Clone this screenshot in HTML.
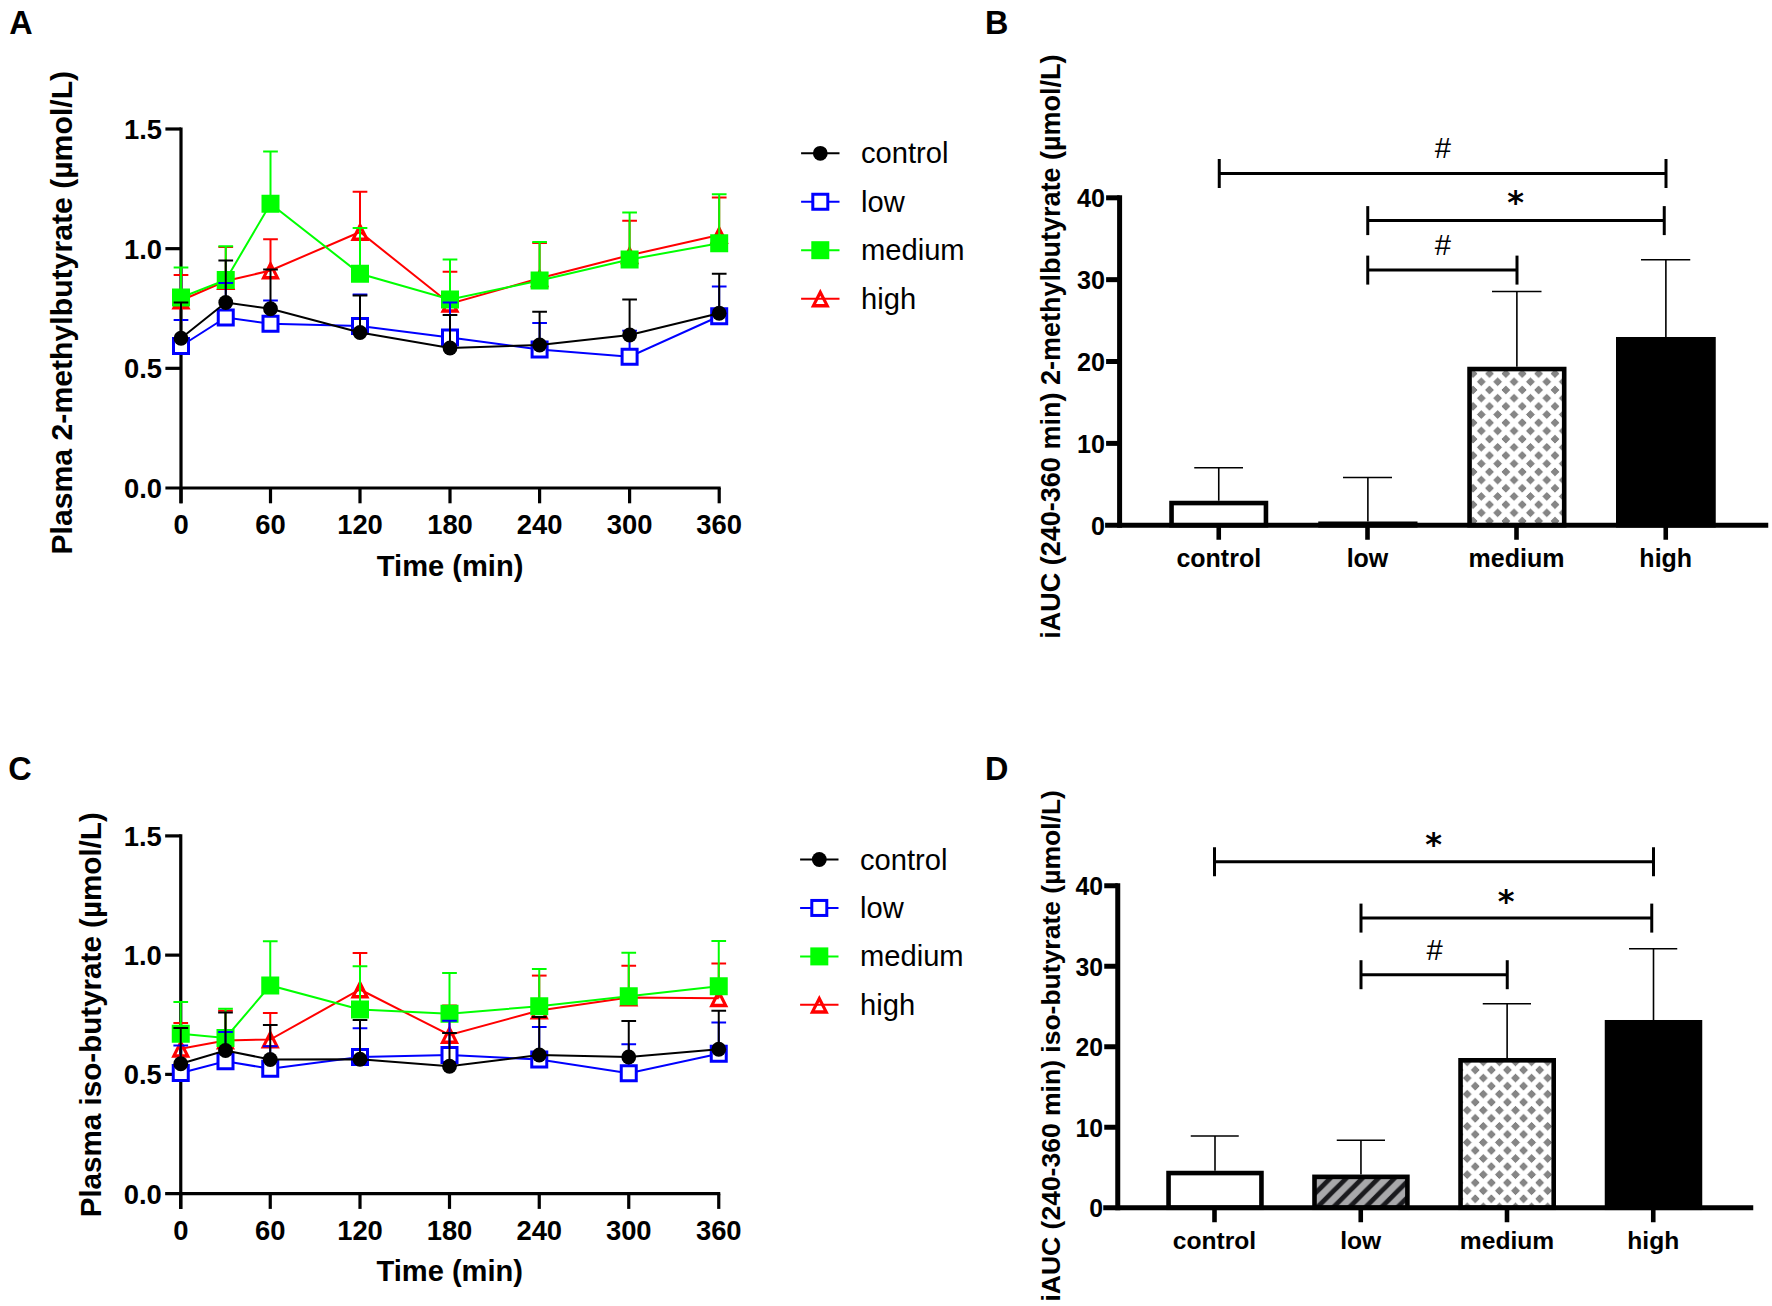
<!DOCTYPE html>
<html lang="en"><head><meta charset="utf-8"><title>Figure</title>
<style>
html,body{margin:0;padding:0;background:#fff;}
body{width:1772px;height:1306px;overflow:hidden;}
svg{display:block;font-family:"Liberation Sans", Arial, Helvetica, sans-serif;}
text{fill:#000;}
</style></head><body>
<svg width="1772" height="1306" viewBox="0 0 1772 1306">
<defs>
<pattern id="dia" patternUnits="userSpaceOnUse" x="1473.1" y="373.6" width="16.38" height="16.38">
<rect width="16.38" height="16.38" fill="#fff"/>
<path d="M0.00 -3.95 L3.95 0.00 L0.00 3.95 L-3.95 0.00Z M16.38 -3.95 L20.33 0.00 L16.38 3.95 L12.43 0.00Z M0.00 12.43 L3.95 16.38 L0.00 20.33 L-3.95 16.38Z M16.38 12.43 L20.33 16.38 L16.38 20.33 L12.43 16.38Z M8.19 4.24 L12.14 8.19 L8.19 12.14 L4.24 8.19Z" fill="#868686" stroke="#5e5e5e" stroke-width="0.7"/>
</pattern>
<pattern id="dia2" patternUnits="userSpaceOnUse" x="1475.25" y="1070" width="16.1" height="16.1">
<rect width="16.1" height="16.1" fill="#fff"/>
<path d="M0.00 -3.95 L3.95 0.00 L0.00 3.95 L-3.95 0.00Z M16.10 -3.95 L20.05 0.00 L16.10 3.95 L12.15 0.00Z M0.00 12.15 L3.95 16.10 L0.00 20.05 L-3.95 16.10Z M16.10 12.15 L20.05 16.10 L16.10 20.05 L12.15 16.10Z M8.05 4.10 L12.00 8.05 L8.05 12.00 L4.10 8.05Z" fill="#868686" stroke="#5e5e5e" stroke-width="0.7"/>
</pattern>
<pattern id="hatch" patternUnits="userSpaceOnUse" x="1335.2" y="1205.4" width="16.05" height="16.05">
<rect width="16.05" height="16.05" fill="#a8a8ab"/>
<path d="M-8.02 8.02 L8.02 -8.02 M0 16.05 L16.05 0 M8.02 24.07 L24.07 8.02" stroke="#1a1a1e" stroke-width="4.8"/>
</pattern>
</defs>
<rect width="1772" height="1306" fill="#fff"/>

<line x1="181.00" y1="127.40" x2="181.00" y2="503.30" stroke="#000" stroke-width="3.2" />
<line x1="165.40" y1="488.00" x2="720.70" y2="488.00" stroke="#000" stroke-width="3.2" />
<text transform="translate(162.00 497.90) scale(1 1.04)" font-size="27.4" font-weight="bold" text-anchor="end" >0.0</text>
<line x1="165.40" y1="368.33" x2="181.00" y2="368.33" stroke="#000" stroke-width="3.2" />
<text transform="translate(162.00 378.23) scale(1 1.04)" font-size="27.4" font-weight="bold" text-anchor="end" >0.5</text>
<line x1="165.40" y1="248.67" x2="181.00" y2="248.67" stroke="#000" stroke-width="3.2" />
<text transform="translate(162.00 258.57) scale(1 1.04)" font-size="27.4" font-weight="bold" text-anchor="end" >1.0</text>
<line x1="165.40" y1="129.00" x2="181.00" y2="129.00" stroke="#000" stroke-width="3.2" />
<text transform="translate(162.00 138.90) scale(1 1.04)" font-size="27.4" font-weight="bold" text-anchor="end" >1.5</text>
<line x1="181.00" y1="488.00" x2="181.00" y2="503.30" stroke="#000" stroke-width="3.2" />
<text transform="translate(181.00 534.00) scale(1 1.04)" font-size="27.4" font-weight="bold" text-anchor="middle" >0</text>
<line x1="270.50" y1="488.00" x2="270.50" y2="503.30" stroke="#000" stroke-width="3.2" />
<text transform="translate(270.50 534.00) scale(1 1.04)" font-size="27.4" font-weight="bold" text-anchor="middle" >60</text>
<line x1="360.00" y1="488.00" x2="360.00" y2="503.30" stroke="#000" stroke-width="3.2" />
<text transform="translate(360.00 534.00) scale(1 1.04)" font-size="27.4" font-weight="bold" text-anchor="middle" >120</text>
<line x1="450.00" y1="488.00" x2="450.00" y2="503.30" stroke="#000" stroke-width="3.2" />
<text transform="translate(450.00 534.00) scale(1 1.04)" font-size="27.4" font-weight="bold" text-anchor="middle" >180</text>
<line x1="539.60" y1="488.00" x2="539.60" y2="503.30" stroke="#000" stroke-width="3.2" />
<text transform="translate(539.60 534.00) scale(1 1.04)" font-size="27.4" font-weight="bold" text-anchor="middle" >240</text>
<line x1="629.60" y1="488.00" x2="629.60" y2="503.30" stroke="#000" stroke-width="3.2" />
<text transform="translate(629.60 534.00) scale(1 1.04)" font-size="27.4" font-weight="bold" text-anchor="middle" >300</text>
<line x1="719.20" y1="488.00" x2="719.20" y2="503.30" stroke="#000" stroke-width="3.2" />
<text transform="translate(719.20 534.00) scale(1 1.04)" font-size="27.4" font-weight="bold" text-anchor="middle" >360</text>
<path d="M181.00 290.60 L190.55 309.40 L171.45 309.40 Z M181.00 297.60 L176.70 305.90 L185.30 305.90 Z" fill="#ff0000" fill-rule="evenodd"/>
<path d="M225.75 271.10 L235.30 289.90 L216.20 289.90 Z M225.75 278.10 L221.45 286.40 L230.05 286.40 Z" fill="#ff0000" fill-rule="evenodd"/>
<path d="M270.50 260.60 L280.05 279.40 L260.95 279.40 Z M270.50 267.60 L266.20 275.90 L274.80 275.90 Z" fill="#ff0000" fill-rule="evenodd"/>
<path d="M360.00 222.10 L369.55 240.90 L350.45 240.90 Z M360.00 229.10 L355.70 237.40 L364.30 237.40 Z" fill="#ff0000" fill-rule="evenodd"/>
<path d="M450.00 293.85 L459.55 312.65 L440.45 312.65 Z M450.00 300.85 L445.70 309.15 L454.30 309.15 Z" fill="#ff0000" fill-rule="evenodd"/>
<path d="M539.60 268.35 L549.15 287.15 L530.05 287.15 Z M539.60 275.35 L535.30 283.65 L543.90 283.65 Z" fill="#ff0000" fill-rule="evenodd"/>
<path d="M629.60 245.35 L639.15 264.15 L620.05 264.15 Z M629.60 252.35 L625.30 260.65 L633.90 260.65 Z" fill="#ff0000" fill-rule="evenodd"/>
<path d="M719.20 225.10 L728.75 243.90 L709.65 243.90 Z M719.20 232.10 L714.90 240.40 L723.50 240.40 Z" fill="#ff0000" fill-rule="evenodd"/>
<line x1="181.00" y1="300.50" x2="181.00" y2="275.00" stroke="#ff0000" stroke-width="2.0" />
<line x1="173.65" y1="275.00" x2="188.35" y2="275.00" stroke="#ff0000" stroke-width="2.0" />
<line x1="225.75" y1="281.00" x2="225.75" y2="247.00" stroke="#ff0000" stroke-width="2.0" />
<line x1="218.40" y1="247.00" x2="233.10" y2="247.00" stroke="#ff0000" stroke-width="2.0" />
<line x1="270.50" y1="270.50" x2="270.50" y2="239.25" stroke="#ff0000" stroke-width="2.0" />
<line x1="263.15" y1="239.25" x2="277.85" y2="239.25" stroke="#ff0000" stroke-width="2.0" />
<line x1="360.00" y1="232.00" x2="360.00" y2="191.75" stroke="#ff0000" stroke-width="2.0" />
<line x1="352.65" y1="191.75" x2="367.35" y2="191.75" stroke="#ff0000" stroke-width="2.0" />
<line x1="450.00" y1="303.75" x2="450.00" y2="271.75" stroke="#ff0000" stroke-width="2.0" />
<line x1="442.65" y1="271.75" x2="457.35" y2="271.75" stroke="#ff0000" stroke-width="2.0" />
<line x1="539.60" y1="278.25" x2="539.60" y2="243.00" stroke="#ff0000" stroke-width="2.0" />
<line x1="532.25" y1="243.00" x2="546.95" y2="243.00" stroke="#ff0000" stroke-width="2.0" />
<line x1="629.60" y1="255.25" x2="629.60" y2="220.75" stroke="#ff0000" stroke-width="2.0" />
<line x1="622.25" y1="220.75" x2="636.95" y2="220.75" stroke="#ff0000" stroke-width="2.0" />
<line x1="719.20" y1="235.00" x2="719.20" y2="197.50" stroke="#ff0000" stroke-width="2.0" />
<line x1="711.85" y1="197.50" x2="726.55" y2="197.50" stroke="#ff0000" stroke-width="2.0" />
<polyline points="181.00,300.50 225.75,281.00 270.50,270.50 360.00,232.00 450.00,303.75 539.60,278.25 629.60,255.25 719.20,235.00" fill="none" stroke="#ff0000" stroke-width="2"/>
<line x1="181.00" y1="297.50" x2="181.00" y2="267.50" stroke="#00ff00" stroke-width="2.0" />
<line x1="173.65" y1="267.50" x2="188.35" y2="267.50" stroke="#00ff00" stroke-width="2.0" />
<line x1="225.75" y1="280.00" x2="225.75" y2="246.25" stroke="#00ff00" stroke-width="2.0" />
<line x1="218.40" y1="246.25" x2="233.10" y2="246.25" stroke="#00ff00" stroke-width="2.0" />
<line x1="270.50" y1="203.75" x2="270.50" y2="151.50" stroke="#00ff00" stroke-width="2.0" />
<line x1="263.15" y1="151.50" x2="277.85" y2="151.50" stroke="#00ff00" stroke-width="2.0" />
<line x1="360.00" y1="273.75" x2="360.00" y2="228.00" stroke="#00ff00" stroke-width="2.0" />
<line x1="352.65" y1="228.00" x2="367.35" y2="228.00" stroke="#00ff00" stroke-width="2.0" />
<line x1="450.00" y1="299.50" x2="450.00" y2="259.50" stroke="#00ff00" stroke-width="2.0" />
<line x1="442.65" y1="259.50" x2="457.35" y2="259.50" stroke="#00ff00" stroke-width="2.0" />
<line x1="539.60" y1="280.50" x2="539.60" y2="242.00" stroke="#00ff00" stroke-width="2.0" />
<line x1="532.25" y1="242.00" x2="546.95" y2="242.00" stroke="#00ff00" stroke-width="2.0" />
<line x1="629.60" y1="259.50" x2="629.60" y2="212.50" stroke="#00ff00" stroke-width="2.0" />
<line x1="622.25" y1="212.50" x2="636.95" y2="212.50" stroke="#00ff00" stroke-width="2.0" />
<line x1="719.20" y1="243.25" x2="719.20" y2="194.25" stroke="#00ff00" stroke-width="2.0" />
<line x1="711.85" y1="194.25" x2="726.55" y2="194.25" stroke="#00ff00" stroke-width="2.0" />
<polyline points="181.00,297.50 225.75,280.00 270.50,203.75 360.00,273.75 450.00,299.50 539.60,280.50 629.60,259.50 719.20,243.25" fill="none" stroke="#00ff00" stroke-width="2"/>
<rect x="172.00" y="288.50" width="18" height="18" fill="#00ff00"/>
<rect x="216.75" y="271.00" width="18" height="18" fill="#00ff00"/>
<rect x="261.50" y="194.75" width="18" height="18" fill="#00ff00"/>
<rect x="351.00" y="264.75" width="18" height="18" fill="#00ff00"/>
<rect x="441.00" y="290.50" width="18" height="18" fill="#00ff00"/>
<rect x="530.60" y="271.50" width="18" height="18" fill="#00ff00"/>
<rect x="620.60" y="250.50" width="18" height="18" fill="#00ff00"/>
<rect x="710.20" y="234.25" width="18" height="18" fill="#00ff00"/>
<line x1="181.00" y1="346.00" x2="181.00" y2="320.00" stroke="#0000ff" stroke-width="2.0" />
<line x1="173.65" y1="320.00" x2="188.35" y2="320.00" stroke="#0000ff" stroke-width="2.0" />
<line x1="225.75" y1="317.50" x2="225.75" y2="283.00" stroke="#0000ff" stroke-width="2.0" />
<line x1="218.40" y1="283.00" x2="233.10" y2="283.00" stroke="#0000ff" stroke-width="2.0" />
<line x1="270.50" y1="323.75" x2="270.50" y2="300.50" stroke="#0000ff" stroke-width="2.0" />
<line x1="263.15" y1="300.50" x2="277.85" y2="300.50" stroke="#0000ff" stroke-width="2.0" />
<line x1="360.00" y1="326.00" x2="360.00" y2="294.50" stroke="#0000ff" stroke-width="2.0" />
<line x1="352.65" y1="294.50" x2="367.35" y2="294.50" stroke="#0000ff" stroke-width="2.0" />
<line x1="450.00" y1="337.50" x2="450.00" y2="302.50" stroke="#0000ff" stroke-width="2.0" />
<line x1="442.65" y1="302.50" x2="457.35" y2="302.50" stroke="#0000ff" stroke-width="2.0" />
<line x1="539.60" y1="349.50" x2="539.60" y2="323.00" stroke="#0000ff" stroke-width="2.0" />
<line x1="532.25" y1="323.00" x2="546.95" y2="323.00" stroke="#0000ff" stroke-width="2.0" />
<line x1="629.60" y1="356.75" x2="629.60" y2="330.75" stroke="#0000ff" stroke-width="2.0" />
<line x1="622.25" y1="330.75" x2="636.95" y2="330.75" stroke="#0000ff" stroke-width="2.0" />
<line x1="719.20" y1="316.25" x2="719.20" y2="286.50" stroke="#0000ff" stroke-width="2.0" />
<line x1="711.85" y1="286.50" x2="726.55" y2="286.50" stroke="#0000ff" stroke-width="2.0" />
<polyline points="181.00,346.00 225.75,317.50 270.50,323.75 360.00,326.00 450.00,337.50 539.60,349.50 629.60,356.75 719.20,316.25" fill="none" stroke="#0000ff" stroke-width="2"/>
<rect x="173.50" y="338.50" width="15" height="15" fill="#fff" stroke="#0000ff" stroke-width="3"/>
<rect x="218.25" y="310.00" width="15" height="15" fill="#fff" stroke="#0000ff" stroke-width="3"/>
<rect x="263.00" y="316.25" width="15" height="15" fill="#fff" stroke="#0000ff" stroke-width="3"/>
<rect x="352.50" y="318.50" width="15" height="15" fill="#fff" stroke="#0000ff" stroke-width="3"/>
<rect x="442.50" y="330.00" width="15" height="15" fill="#fff" stroke="#0000ff" stroke-width="3"/>
<rect x="532.10" y="342.00" width="15" height="15" fill="#fff" stroke="#0000ff" stroke-width="3"/>
<rect x="622.10" y="349.25" width="15" height="15" fill="#fff" stroke="#0000ff" stroke-width="3"/>
<rect x="711.70" y="308.75" width="15" height="15" fill="#fff" stroke="#0000ff" stroke-width="3"/>
<line x1="181.00" y1="338.25" x2="181.00" y2="302.50" stroke="#000000" stroke-width="2.0" />
<line x1="173.65" y1="302.50" x2="188.35" y2="302.50" stroke="#000000" stroke-width="2.0" />
<line x1="225.75" y1="302.50" x2="225.75" y2="260.50" stroke="#000000" stroke-width="2.0" />
<line x1="218.40" y1="260.50" x2="233.10" y2="260.50" stroke="#000000" stroke-width="2.0" />
<line x1="270.50" y1="308.75" x2="270.50" y2="269.50" stroke="#000000" stroke-width="2.0" />
<line x1="263.15" y1="269.50" x2="277.85" y2="269.50" stroke="#000000" stroke-width="2.0" />
<line x1="360.00" y1="332.50" x2="360.00" y2="295.50" stroke="#000000" stroke-width="2.0" />
<line x1="352.65" y1="295.50" x2="367.35" y2="295.50" stroke="#000000" stroke-width="2.0" />
<line x1="450.00" y1="348.00" x2="450.00" y2="315.00" stroke="#000000" stroke-width="2.0" />
<line x1="442.65" y1="315.00" x2="457.35" y2="315.00" stroke="#000000" stroke-width="2.0" />
<line x1="539.60" y1="345.00" x2="539.60" y2="311.75" stroke="#000000" stroke-width="2.0" />
<line x1="532.25" y1="311.75" x2="546.95" y2="311.75" stroke="#000000" stroke-width="2.0" />
<line x1="629.60" y1="335.00" x2="629.60" y2="299.50" stroke="#000000" stroke-width="2.0" />
<line x1="622.25" y1="299.50" x2="636.95" y2="299.50" stroke="#000000" stroke-width="2.0" />
<line x1="719.20" y1="313.25" x2="719.20" y2="273.75" stroke="#000000" stroke-width="2.0" />
<line x1="711.85" y1="273.75" x2="726.55" y2="273.75" stroke="#000000" stroke-width="2.0" />
<polyline points="181.00,338.25 225.75,302.50 270.50,308.75 360.00,332.50 450.00,348.00 539.60,345.00 629.60,335.00 719.20,313.25" fill="none" stroke="#000000" stroke-width="2"/>
<circle cx="181.00" cy="338.25" r="7.4" fill="#000"/>
<circle cx="225.75" cy="302.50" r="7.4" fill="#000"/>
<circle cx="270.50" cy="308.75" r="7.4" fill="#000"/>
<circle cx="360.00" cy="332.50" r="7.4" fill="#000"/>
<circle cx="450.00" cy="348.00" r="7.4" fill="#000"/>
<circle cx="539.60" cy="345.00" r="7.4" fill="#000"/>
<circle cx="629.60" cy="335.00" r="7.4" fill="#000"/>
<circle cx="719.20" cy="313.25" r="7.4" fill="#000"/>
<text x="450.10" y="575.80" font-size="29.1" font-weight="bold" text-anchor="middle" >Time (min)</text>
<text x="72.20" y="312.70" font-size="30.2" font-weight="bold" text-anchor="middle" transform="rotate(-90 72.20 312.70)" >Plasma 2-methylbutyrate (µmol/L)</text>
<line x1="801.10" y1="153.30" x2="839.50" y2="153.30" stroke="#000000" stroke-width="2" />
<circle cx="820.30" cy="153.30" r="7.4" fill="#000"/>
<text x="861.00" y="163.30" font-size="29.15" font-weight="normal" text-anchor="start" >control</text>
<line x1="801.10" y1="201.75" x2="839.50" y2="201.75" stroke="#0000ff" stroke-width="2" />
<rect x="812.80" y="194.25" width="15" height="15" fill="#fff" stroke="#0000ff" stroke-width="3"/>
<text x="861.00" y="211.75" font-size="29.15" font-weight="normal" text-anchor="start" >low</text>
<line x1="801.10" y1="250.20" x2="839.50" y2="250.20" stroke="#00ff00" stroke-width="2" />
<rect x="811.30" y="241.20" width="18" height="18" fill="#00ff00"/>
<text x="861.00" y="260.20" font-size="29.15" font-weight="normal" text-anchor="start" >medium</text>
<path d="M820.30 288.75 L829.85 307.55 L810.75 307.55 Z M820.30 295.75 L816.00 304.05 L824.60 304.05 Z" fill="#ff0000" fill-rule="evenodd"/>
<line x1="801.10" y1="298.65" x2="839.50" y2="298.65" stroke="#ff0000" stroke-width="2" />
<text x="861.00" y="308.65" font-size="29.15" font-weight="normal" text-anchor="start" >high</text>
<text x="9.30" y="33.80" font-size="32.4" font-weight="bold" text-anchor="start" >A</text>
<line x1="180.75" y1="834.30" x2="180.75" y2="1208.90" stroke="#000" stroke-width="3.2" />
<line x1="165.15" y1="1193.60" x2="720.25" y2="1193.60" stroke="#000" stroke-width="3.2" />
<text transform="translate(161.75 1203.50) scale(1 1.04)" font-size="27.4" font-weight="bold" text-anchor="end" >0.0</text>
<line x1="165.15" y1="1074.37" x2="180.75" y2="1074.37" stroke="#000" stroke-width="3.2" />
<text transform="translate(161.75 1084.27) scale(1 1.04)" font-size="27.4" font-weight="bold" text-anchor="end" >0.5</text>
<line x1="165.15" y1="955.13" x2="180.75" y2="955.13" stroke="#000" stroke-width="3.2" />
<text transform="translate(161.75 965.03) scale(1 1.04)" font-size="27.4" font-weight="bold" text-anchor="end" >1.0</text>
<line x1="165.15" y1="835.90" x2="180.75" y2="835.90" stroke="#000" stroke-width="3.2" />
<text transform="translate(161.75 845.80) scale(1 1.04)" font-size="27.4" font-weight="bold" text-anchor="end" >1.5</text>
<line x1="180.75" y1="1193.60" x2="180.75" y2="1208.90" stroke="#000" stroke-width="3.2" />
<text transform="translate(180.75 1239.60) scale(1 1.04)" font-size="27.4" font-weight="bold" text-anchor="middle" >0</text>
<line x1="270.25" y1="1193.60" x2="270.25" y2="1208.90" stroke="#000" stroke-width="3.2" />
<text transform="translate(270.25 1239.60) scale(1 1.04)" font-size="27.4" font-weight="bold" text-anchor="middle" >60</text>
<line x1="360.00" y1="1193.60" x2="360.00" y2="1208.90" stroke="#000" stroke-width="3.2" />
<text transform="translate(360.00 1239.60) scale(1 1.04)" font-size="27.4" font-weight="bold" text-anchor="middle" >120</text>
<line x1="449.50" y1="1193.60" x2="449.50" y2="1208.90" stroke="#000" stroke-width="3.2" />
<text transform="translate(449.50 1239.60) scale(1 1.04)" font-size="27.4" font-weight="bold" text-anchor="middle" >180</text>
<line x1="539.25" y1="1193.60" x2="539.25" y2="1208.90" stroke="#000" stroke-width="3.2" />
<text transform="translate(539.25 1239.60) scale(1 1.04)" font-size="27.4" font-weight="bold" text-anchor="middle" >240</text>
<line x1="628.75" y1="1193.60" x2="628.75" y2="1208.90" stroke="#000" stroke-width="3.2" />
<text transform="translate(628.75 1239.60) scale(1 1.04)" font-size="27.4" font-weight="bold" text-anchor="middle" >300</text>
<line x1="718.75" y1="1193.60" x2="718.75" y2="1208.90" stroke="#000" stroke-width="3.2" />
<text transform="translate(718.75 1239.60) scale(1 1.04)" font-size="27.4" font-weight="bold" text-anchor="middle" >360</text>
<path d="M180.75 1038.85 L190.30 1057.65 L171.20 1057.65 Z M180.75 1045.85 L176.45 1054.15 L185.05 1054.15 Z" fill="#ff0000" fill-rule="evenodd"/>
<path d="M225.50 1030.60 L235.05 1049.40 L215.95 1049.40 Z M225.50 1037.60 L221.20 1045.90 L229.80 1045.90 Z" fill="#ff0000" fill-rule="evenodd"/>
<path d="M270.25 1029.60 L279.80 1048.40 L260.70 1048.40 Z M270.25 1036.60 L265.95 1044.90 L274.55 1044.90 Z" fill="#ff0000" fill-rule="evenodd"/>
<path d="M360.00 979.60 L369.55 998.40 L350.45 998.40 Z M360.00 986.60 L355.70 994.90 L364.30 994.90 Z" fill="#ff0000" fill-rule="evenodd"/>
<path d="M449.50 1025.10 L459.05 1043.90 L439.95 1043.90 Z M449.50 1032.10 L445.20 1040.40 L453.80 1040.40 Z" fill="#ff0000" fill-rule="evenodd"/>
<path d="M539.25 1000.60 L548.80 1019.40 L529.70 1019.40 Z M539.25 1007.60 L534.95 1015.90 L543.55 1015.90 Z" fill="#ff0000" fill-rule="evenodd"/>
<path d="M628.75 987.60 L638.30 1006.40 L619.20 1006.40 Z M628.75 994.60 L624.45 1002.90 L633.05 1002.90 Z" fill="#ff0000" fill-rule="evenodd"/>
<path d="M718.75 988.35 L728.30 1007.15 L709.20 1007.15 Z M718.75 995.35 L714.45 1003.65 L723.05 1003.65 Z" fill="#ff0000" fill-rule="evenodd"/>
<line x1="180.75" y1="1048.75" x2="180.75" y2="1023.00" stroke="#ff0000" stroke-width="2.0" />
<line x1="173.40" y1="1023.00" x2="188.10" y2="1023.00" stroke="#ff0000" stroke-width="2.0" />
<line x1="225.50" y1="1040.50" x2="225.50" y2="1010.75" stroke="#ff0000" stroke-width="2.0" />
<line x1="218.15" y1="1010.75" x2="232.85" y2="1010.75" stroke="#ff0000" stroke-width="2.0" />
<line x1="270.25" y1="1039.50" x2="270.25" y2="1013.00" stroke="#ff0000" stroke-width="2.0" />
<line x1="262.90" y1="1013.00" x2="277.60" y2="1013.00" stroke="#ff0000" stroke-width="2.0" />
<line x1="360.00" y1="989.50" x2="360.00" y2="953.00" stroke="#ff0000" stroke-width="2.0" />
<line x1="352.65" y1="953.00" x2="367.35" y2="953.00" stroke="#ff0000" stroke-width="2.0" />
<line x1="449.50" y1="1035.00" x2="449.50" y2="1005.50" stroke="#ff0000" stroke-width="2.0" />
<line x1="442.15" y1="1005.50" x2="456.85" y2="1005.50" stroke="#ff0000" stroke-width="2.0" />
<line x1="539.25" y1="1010.50" x2="539.25" y2="975.60" stroke="#ff0000" stroke-width="2.0" />
<line x1="531.90" y1="975.60" x2="546.60" y2="975.60" stroke="#ff0000" stroke-width="2.0" />
<line x1="628.75" y1="997.50" x2="628.75" y2="965.75" stroke="#ff0000" stroke-width="2.0" />
<line x1="621.40" y1="965.75" x2="636.10" y2="965.75" stroke="#ff0000" stroke-width="2.0" />
<line x1="718.75" y1="998.25" x2="718.75" y2="963.50" stroke="#ff0000" stroke-width="2.0" />
<line x1="711.40" y1="963.50" x2="726.10" y2="963.50" stroke="#ff0000" stroke-width="2.0" />
<polyline points="180.75,1048.75 225.50,1040.50 270.25,1039.50 360.00,989.50 449.50,1035.00 539.25,1010.50 628.75,997.50 718.75,998.25" fill="none" stroke="#ff0000" stroke-width="2"/>
<line x1="180.75" y1="1033.75" x2="180.75" y2="1002.00" stroke="#00ff00" stroke-width="2.0" />
<line x1="173.40" y1="1002.00" x2="188.10" y2="1002.00" stroke="#00ff00" stroke-width="2.0" />
<line x1="225.50" y1="1038.00" x2="225.50" y2="1008.75" stroke="#00ff00" stroke-width="2.0" />
<line x1="218.15" y1="1008.75" x2="232.85" y2="1008.75" stroke="#00ff00" stroke-width="2.0" />
<line x1="270.25" y1="985.50" x2="270.25" y2="941.25" stroke="#00ff00" stroke-width="2.0" />
<line x1="262.90" y1="941.25" x2="277.60" y2="941.25" stroke="#00ff00" stroke-width="2.0" />
<line x1="360.00" y1="1009.50" x2="360.00" y2="966.25" stroke="#00ff00" stroke-width="2.0" />
<line x1="352.65" y1="966.25" x2="367.35" y2="966.25" stroke="#00ff00" stroke-width="2.0" />
<line x1="449.50" y1="1013.75" x2="449.50" y2="973.00" stroke="#00ff00" stroke-width="2.0" />
<line x1="442.15" y1="973.00" x2="456.85" y2="973.00" stroke="#00ff00" stroke-width="2.0" />
<line x1="539.25" y1="1006.25" x2="539.25" y2="969.00" stroke="#00ff00" stroke-width="2.0" />
<line x1="531.90" y1="969.00" x2="546.60" y2="969.00" stroke="#00ff00" stroke-width="2.0" />
<line x1="628.75" y1="996.25" x2="628.75" y2="952.75" stroke="#00ff00" stroke-width="2.0" />
<line x1="621.40" y1="952.75" x2="636.10" y2="952.75" stroke="#00ff00" stroke-width="2.0" />
<line x1="718.75" y1="986.25" x2="718.75" y2="941.00" stroke="#00ff00" stroke-width="2.0" />
<line x1="711.40" y1="941.00" x2="726.10" y2="941.00" stroke="#00ff00" stroke-width="2.0" />
<polyline points="180.75,1033.75 225.50,1038.00 270.25,985.50 360.00,1009.50 449.50,1013.75 539.25,1006.25 628.75,996.25 718.75,986.25" fill="none" stroke="#00ff00" stroke-width="2"/>
<rect x="171.75" y="1024.75" width="18" height="18" fill="#00ff00"/>
<rect x="216.50" y="1029.00" width="18" height="18" fill="#00ff00"/>
<rect x="261.25" y="976.50" width="18" height="18" fill="#00ff00"/>
<rect x="351.00" y="1000.50" width="18" height="18" fill="#00ff00"/>
<rect x="440.50" y="1004.75" width="18" height="18" fill="#00ff00"/>
<rect x="530.25" y="997.25" width="18" height="18" fill="#00ff00"/>
<rect x="619.75" y="987.25" width="18" height="18" fill="#00ff00"/>
<rect x="709.75" y="977.25" width="18" height="18" fill="#00ff00"/>
<line x1="180.75" y1="1073.00" x2="180.75" y2="1045.50" stroke="#0000ff" stroke-width="2.0" />
<line x1="173.40" y1="1045.50" x2="188.10" y2="1045.50" stroke="#0000ff" stroke-width="2.0" />
<line x1="225.50" y1="1061.25" x2="225.50" y2="1032.00" stroke="#0000ff" stroke-width="2.0" />
<line x1="218.15" y1="1032.00" x2="232.85" y2="1032.00" stroke="#0000ff" stroke-width="2.0" />
<line x1="270.25" y1="1068.75" x2="270.25" y2="1046.25" stroke="#0000ff" stroke-width="2.0" />
<line x1="262.90" y1="1046.25" x2="277.60" y2="1046.25" stroke="#0000ff" stroke-width="2.0" />
<line x1="360.00" y1="1057.00" x2="360.00" y2="1028.25" stroke="#0000ff" stroke-width="2.0" />
<line x1="352.65" y1="1028.25" x2="367.35" y2="1028.25" stroke="#0000ff" stroke-width="2.0" />
<line x1="449.50" y1="1055.00" x2="449.50" y2="1020.75" stroke="#0000ff" stroke-width="2.0" />
<line x1="442.15" y1="1020.75" x2="456.85" y2="1020.75" stroke="#0000ff" stroke-width="2.0" />
<line x1="539.25" y1="1059.50" x2="539.25" y2="1027.00" stroke="#0000ff" stroke-width="2.0" />
<line x1="531.90" y1="1027.00" x2="546.60" y2="1027.00" stroke="#0000ff" stroke-width="2.0" />
<line x1="628.75" y1="1073.25" x2="628.75" y2="1044.25" stroke="#0000ff" stroke-width="2.0" />
<line x1="621.40" y1="1044.25" x2="636.10" y2="1044.25" stroke="#0000ff" stroke-width="2.0" />
<line x1="718.75" y1="1053.75" x2="718.75" y2="1022.50" stroke="#0000ff" stroke-width="2.0" />
<line x1="711.40" y1="1022.50" x2="726.10" y2="1022.50" stroke="#0000ff" stroke-width="2.0" />
<polyline points="180.75,1073.00 225.50,1061.25 270.25,1068.75 360.00,1057.00 449.50,1055.00 539.25,1059.50 628.75,1073.25 718.75,1053.75" fill="none" stroke="#0000ff" stroke-width="2"/>
<rect x="173.25" y="1065.50" width="15" height="15" fill="#fff" stroke="#0000ff" stroke-width="3"/>
<rect x="218.00" y="1053.75" width="15" height="15" fill="#fff" stroke="#0000ff" stroke-width="3"/>
<rect x="262.75" y="1061.25" width="15" height="15" fill="#fff" stroke="#0000ff" stroke-width="3"/>
<rect x="352.50" y="1049.50" width="15" height="15" fill="#fff" stroke="#0000ff" stroke-width="3"/>
<rect x="442.00" y="1047.50" width="15" height="15" fill="#fff" stroke="#0000ff" stroke-width="3"/>
<rect x="531.75" y="1052.00" width="15" height="15" fill="#fff" stroke="#0000ff" stroke-width="3"/>
<rect x="621.25" y="1065.75" width="15" height="15" fill="#fff" stroke="#0000ff" stroke-width="3"/>
<rect x="711.25" y="1046.25" width="15" height="15" fill="#fff" stroke="#0000ff" stroke-width="3"/>
<line x1="180.75" y1="1063.75" x2="180.75" y2="1028.00" stroke="#000000" stroke-width="2.0" />
<line x1="173.40" y1="1028.00" x2="188.10" y2="1028.00" stroke="#000000" stroke-width="2.0" />
<line x1="225.50" y1="1050.50" x2="225.50" y2="1012.50" stroke="#000000" stroke-width="2.0" />
<line x1="218.15" y1="1012.50" x2="232.85" y2="1012.50" stroke="#000000" stroke-width="2.0" />
<line x1="270.25" y1="1059.50" x2="270.25" y2="1025.00" stroke="#000000" stroke-width="2.0" />
<line x1="262.90" y1="1025.00" x2="277.60" y2="1025.00" stroke="#000000" stroke-width="2.0" />
<line x1="360.00" y1="1059.25" x2="360.00" y2="1020.00" stroke="#000000" stroke-width="2.0" />
<line x1="352.65" y1="1020.00" x2="367.35" y2="1020.00" stroke="#000000" stroke-width="2.0" />
<line x1="449.50" y1="1066.25" x2="449.50" y2="1033.00" stroke="#000000" stroke-width="2.0" />
<line x1="442.15" y1="1033.00" x2="456.85" y2="1033.00" stroke="#000000" stroke-width="2.0" />
<line x1="539.25" y1="1055.00" x2="539.25" y2="1017.00" stroke="#000000" stroke-width="2.0" />
<line x1="531.90" y1="1017.00" x2="546.60" y2="1017.00" stroke="#000000" stroke-width="2.0" />
<line x1="628.75" y1="1057.00" x2="628.75" y2="1021.00" stroke="#000000" stroke-width="2.0" />
<line x1="621.40" y1="1021.00" x2="636.10" y2="1021.00" stroke="#000000" stroke-width="2.0" />
<line x1="718.75" y1="1049.25" x2="718.75" y2="1010.75" stroke="#000000" stroke-width="2.0" />
<line x1="711.40" y1="1010.75" x2="726.10" y2="1010.75" stroke="#000000" stroke-width="2.0" />
<polyline points="180.75,1063.75 225.50,1050.50 270.25,1059.50 360.00,1059.25 449.50,1066.25 539.25,1055.00 628.75,1057.00 718.75,1049.25" fill="none" stroke="#000000" stroke-width="2"/>
<circle cx="180.75" cy="1063.75" r="7.4" fill="#000"/>
<circle cx="225.50" cy="1050.50" r="7.4" fill="#000"/>
<circle cx="270.25" cy="1059.50" r="7.4" fill="#000"/>
<circle cx="360.00" cy="1059.25" r="7.4" fill="#000"/>
<circle cx="449.50" cy="1066.25" r="7.4" fill="#000"/>
<circle cx="539.25" cy="1055.00" r="7.4" fill="#000"/>
<circle cx="628.75" cy="1057.00" r="7.4" fill="#000"/>
<circle cx="718.75" cy="1049.25" r="7.4" fill="#000"/>
<text x="449.75" y="1281.40" font-size="29.1" font-weight="bold" text-anchor="middle" >Time (min)</text>
<text x="101.20" y="1014.80" font-size="29.6" font-weight="bold" text-anchor="middle" transform="rotate(-90 101.20 1014.80)" >Plasma iso-butyrate (µmol/L)</text>
<line x1="800.10" y1="859.50" x2="838.50" y2="859.50" stroke="#000000" stroke-width="2" />
<circle cx="819.30" cy="859.50" r="7.4" fill="#000"/>
<text x="860.00" y="869.50" font-size="29.15" font-weight="normal" text-anchor="start" >control</text>
<line x1="800.10" y1="907.95" x2="838.50" y2="907.95" stroke="#0000ff" stroke-width="2" />
<rect x="811.80" y="900.45" width="15" height="15" fill="#fff" stroke="#0000ff" stroke-width="3"/>
<text x="860.00" y="917.95" font-size="29.15" font-weight="normal" text-anchor="start" >low</text>
<line x1="800.10" y1="956.40" x2="838.50" y2="956.40" stroke="#00ff00" stroke-width="2" />
<rect x="810.30" y="947.40" width="18" height="18" fill="#00ff00"/>
<text x="860.00" y="966.40" font-size="29.15" font-weight="normal" text-anchor="start" >medium</text>
<path d="M819.30 994.95 L828.85 1013.75 L809.75 1013.75 Z M819.30 1001.95 L815.00 1010.25 L823.60 1010.25 Z" fill="#ff0000" fill-rule="evenodd"/>
<line x1="800.10" y1="1004.85" x2="838.50" y2="1004.85" stroke="#ff0000" stroke-width="2" />
<text x="860.00" y="1014.85" font-size="29.15" font-weight="normal" text-anchor="start" >high</text>
<text x="8.30" y="779.80" font-size="32.4" font-weight="bold" text-anchor="start" >C</text>
<line x1="1218.75" y1="500.75" x2="1218.75" y2="467.75" stroke="#000" stroke-width="1.6" />
<line x1="1194.25" y1="467.75" x2="1243.00" y2="467.75" stroke="#000" stroke-width="1.6" />
<rect x="1171.55" y="503.05" width="94.40" height="22.20" fill="#fff" stroke="#000" stroke-width="4.6"/>
<line x1="1367.88" y1="521.50" x2="1367.88" y2="477.50" stroke="#000" stroke-width="1.6" />
<line x1="1343.00" y1="477.50" x2="1392.00" y2="477.50" stroke="#000" stroke-width="1.6" />
<rect x="1320.55" y="523.80" width="94.65" height="1.45" fill="#fff" stroke="#000" stroke-width="4.6"/>
<line x1="1516.88" y1="366.75" x2="1516.88" y2="291.50" stroke="#000" stroke-width="1.6" />
<line x1="1492.00" y1="291.50" x2="1541.50" y2="291.50" stroke="#000" stroke-width="1.6" />
<rect x="1469.55" y="369.05" width="94.65" height="156.20" fill="url(#dia)" stroke="#000" stroke-width="4.6"/>
<line x1="1665.88" y1="337.00" x2="1665.88" y2="259.75" stroke="#000" stroke-width="1.6" />
<line x1="1641.00" y1="259.75" x2="1690.25" y2="259.75" stroke="#000" stroke-width="1.6" />
<rect x="1618.30" y="339.30" width="95.15" height="185.95" fill="#000" stroke="#000" stroke-width="4.6"/>
<line x1="1119.60" y1="195.30" x2="1119.60" y2="527.75" stroke="#000" stroke-width="5" />
<line x1="1105.10" y1="525.25" x2="1768.25" y2="525.25" stroke="#000" stroke-width="5" />
<text transform="translate(1105.00 534.55) scale(1 1.04)" font-size="25.2" font-weight="bold" text-anchor="end" >0</text>
<line x1="1106.10" y1="443.39" x2="1119.60" y2="443.39" stroke="#000" stroke-width="5" />
<text transform="translate(1105.00 452.69) scale(1 1.04)" font-size="25.2" font-weight="bold" text-anchor="end" >10</text>
<line x1="1106.10" y1="361.52" x2="1119.60" y2="361.52" stroke="#000" stroke-width="5" />
<text transform="translate(1105.00 370.82) scale(1 1.04)" font-size="25.2" font-weight="bold" text-anchor="end" >20</text>
<line x1="1106.10" y1="279.66" x2="1119.60" y2="279.66" stroke="#000" stroke-width="5" />
<text transform="translate(1105.00 288.96) scale(1 1.04)" font-size="25.2" font-weight="bold" text-anchor="end" >30</text>
<line x1="1106.10" y1="197.80" x2="1119.60" y2="197.80" stroke="#000" stroke-width="5" />
<text transform="translate(1105.00 207.10) scale(1 1.04)" font-size="25.2" font-weight="bold" text-anchor="end" >40</text>
<line x1="1218.75" y1="525.25" x2="1218.75" y2="539.75" stroke="#000" stroke-width="4.6" />
<text x="1218.75" y="566.85" font-size="25.0" font-weight="bold" text-anchor="middle" >control</text>
<line x1="1367.50" y1="525.25" x2="1367.50" y2="539.75" stroke="#000" stroke-width="4.6" />
<text x="1367.50" y="566.85" font-size="25.0" font-weight="bold" text-anchor="middle" >low</text>
<line x1="1516.50" y1="525.25" x2="1516.50" y2="539.75" stroke="#000" stroke-width="4.6" />
<text x="1516.50" y="566.85" font-size="25.0" font-weight="bold" text-anchor="middle" >medium</text>
<line x1="1665.75" y1="525.25" x2="1665.75" y2="539.75" stroke="#000" stroke-width="4.6" />
<text x="1665.75" y="566.85" font-size="25.0" font-weight="bold" text-anchor="middle" >high</text>
<line x1="1219.25" y1="173.50" x2="1666.00" y2="173.50" stroke="#000" stroke-width="3" />
<line x1="1219.25" y1="159.00" x2="1219.25" y2="188.00" stroke="#000" stroke-width="3" />
<line x1="1666.00" y1="159.00" x2="1666.00" y2="188.00" stroke="#000" stroke-width="3" />
<line x1="1367.75" y1="220.60" x2="1664.25" y2="220.60" stroke="#000" stroke-width="3" />
<line x1="1367.75" y1="206.10" x2="1367.75" y2="235.10" stroke="#000" stroke-width="3" />
<line x1="1664.25" y1="206.10" x2="1664.25" y2="235.10" stroke="#000" stroke-width="3" />
<line x1="1367.75" y1="270.10" x2="1517.00" y2="270.10" stroke="#000" stroke-width="3" />
<line x1="1367.75" y1="255.60" x2="1367.75" y2="284.60" stroke="#000" stroke-width="3" />
<line x1="1517.00" y1="255.60" x2="1517.00" y2="284.60" stroke="#000" stroke-width="3" />
<text transform="translate(1442.75 158.10) scale(1 1.04)" font-size="29.2" font-weight="normal" text-anchor="middle" >#</text>
<text x="1515.60" y="213.40" font-size="32" font-weight="bold" text-anchor="middle" font-family="DejaVu Sans, sans-serif">*</text>
<text transform="translate(1442.75 254.60) scale(1 1.04)" font-size="29.2" font-weight="normal" text-anchor="middle" >#</text>
<text x="1060.20" y="346.60" font-size="27.0" font-weight="bold" text-anchor="middle" transform="rotate(-90 1060.20 346.60)" >iAUC (240-360 min) 2-methylbutyrate (µmol/L)</text>
<text x="984.90" y="33.70" font-size="32.4" font-weight="bold" text-anchor="start" >B</text>
<g id="panelD">
<line x1="1215.00" y1="1170.75" x2="1215.00" y2="1136.00" stroke="#000" stroke-width="1.6" />
<line x1="1190.75" y1="1136.00" x2="1238.75" y2="1136.00" stroke="#000" stroke-width="1.6" />
<rect x="1168.55" y="1173.05" width="92.90" height="34.70" fill="#fff" stroke="#000" stroke-width="4.6"/>
<line x1="1360.95" y1="1174.55" x2="1360.95" y2="1140.25" stroke="#000" stroke-width="1.6" />
<line x1="1336.75" y1="1140.25" x2="1385.00" y2="1140.25" stroke="#000" stroke-width="1.6" />
<rect x="1314.50" y="1176.85" width="92.90" height="30.90" fill="url(#hatch)" stroke="#000" stroke-width="4.6"/>
<line x1="1507.12" y1="1058.00" x2="1507.12" y2="1003.75" stroke="#000" stroke-width="1.6" />
<line x1="1482.75" y1="1003.75" x2="1531.00" y2="1003.75" stroke="#000" stroke-width="1.6" />
<rect x="1460.55" y="1060.30" width="93.15" height="147.45" fill="url(#dia2)" stroke="#000" stroke-width="4.6"/>
<line x1="1653.50" y1="1020.00" x2="1653.50" y2="948.75" stroke="#000" stroke-width="1.6" />
<line x1="1629.00" y1="948.75" x2="1677.25" y2="948.75" stroke="#000" stroke-width="1.6" />
<rect x="1607.05" y="1022.30" width="92.90" height="185.45" fill="#000" stroke="#000" stroke-width="4.6"/>
<line x1="1117.75" y1="883.25" x2="1117.75" y2="1210.25" stroke="#000" stroke-width="5" />
<line x1="1103.25" y1="1207.75" x2="1753.25" y2="1207.75" stroke="#000" stroke-width="5" />
<text transform="translate(1103.15 1217.05) scale(1 1.04)" font-size="24.8" font-weight="bold" text-anchor="end" >0</text>
<line x1="1104.25" y1="1127.25" x2="1117.75" y2="1127.25" stroke="#000" stroke-width="5" />
<text transform="translate(1103.15 1136.55) scale(1 1.04)" font-size="24.8" font-weight="bold" text-anchor="end" >10</text>
<line x1="1104.25" y1="1046.75" x2="1117.75" y2="1046.75" stroke="#000" stroke-width="5" />
<text transform="translate(1103.15 1056.05) scale(1 1.04)" font-size="24.8" font-weight="bold" text-anchor="end" >20</text>
<line x1="1104.25" y1="966.25" x2="1117.75" y2="966.25" stroke="#000" stroke-width="5" />
<text transform="translate(1103.15 975.55) scale(1 1.04)" font-size="24.8" font-weight="bold" text-anchor="end" >30</text>
<line x1="1104.25" y1="885.75" x2="1117.75" y2="885.75" stroke="#000" stroke-width="5" />
<text transform="translate(1103.15 895.05) scale(1 1.04)" font-size="24.8" font-weight="bold" text-anchor="end" >40</text>
<line x1="1214.50" y1="1207.75" x2="1214.50" y2="1222.25" stroke="#000" stroke-width="4.6" />
<text x="1214.50" y="1249.35" font-size="24.6" font-weight="bold" text-anchor="middle" >control</text>
<line x1="1360.75" y1="1207.75" x2="1360.75" y2="1222.25" stroke="#000" stroke-width="4.6" />
<text x="1360.75" y="1249.35" font-size="24.6" font-weight="bold" text-anchor="middle" >low</text>
<line x1="1507.00" y1="1207.75" x2="1507.00" y2="1222.25" stroke="#000" stroke-width="4.6" />
<text x="1507.00" y="1249.35" font-size="24.6" font-weight="bold" text-anchor="middle" >medium</text>
<line x1="1653.25" y1="1207.75" x2="1653.25" y2="1222.25" stroke="#000" stroke-width="4.6" />
<text x="1653.25" y="1249.35" font-size="24.6" font-weight="bold" text-anchor="middle" >high</text>
<line x1="1214.50" y1="861.75" x2="1653.50" y2="861.75" stroke="#000" stroke-width="3" />
<line x1="1214.50" y1="847.25" x2="1214.50" y2="876.25" stroke="#000" stroke-width="3" />
<line x1="1653.50" y1="847.25" x2="1653.50" y2="876.25" stroke="#000" stroke-width="3" />
<line x1="1361.00" y1="918.10" x2="1651.75" y2="918.10" stroke="#000" stroke-width="3" />
<line x1="1361.00" y1="903.60" x2="1361.00" y2="932.60" stroke="#000" stroke-width="3" />
<line x1="1651.75" y1="903.60" x2="1651.75" y2="932.60" stroke="#000" stroke-width="3" />
<line x1="1361.00" y1="974.70" x2="1507.25" y2="974.70" stroke="#000" stroke-width="3" />
<line x1="1361.00" y1="960.20" x2="1361.00" y2="989.20" stroke="#000" stroke-width="3" />
<line x1="1507.25" y1="960.20" x2="1507.25" y2="989.20" stroke="#000" stroke-width="3" />
<text x="1433.60" y="855.40" font-size="32" font-weight="bold" text-anchor="middle" font-family="DejaVu Sans, sans-serif">*</text>
<text x="1506.10" y="911.70" font-size="32" font-weight="bold" text-anchor="middle" font-family="DejaVu Sans, sans-serif">*</text>
<text transform="translate(1434.50 959.60) scale(1 1.04)" font-size="29.2" font-weight="normal" text-anchor="middle" >#</text>
<text x="1059.60" y="1045.80" font-size="26.5" font-weight="bold" text-anchor="middle" transform="rotate(-90 1059.60 1045.80)" >iAUC (240-360 min) iso-butyrate (µmol/L)</text>
<text x="984.90" y="779.60" font-size="32.4" font-weight="bold" text-anchor="start" >D</text>
</g>
</svg></body></html>
